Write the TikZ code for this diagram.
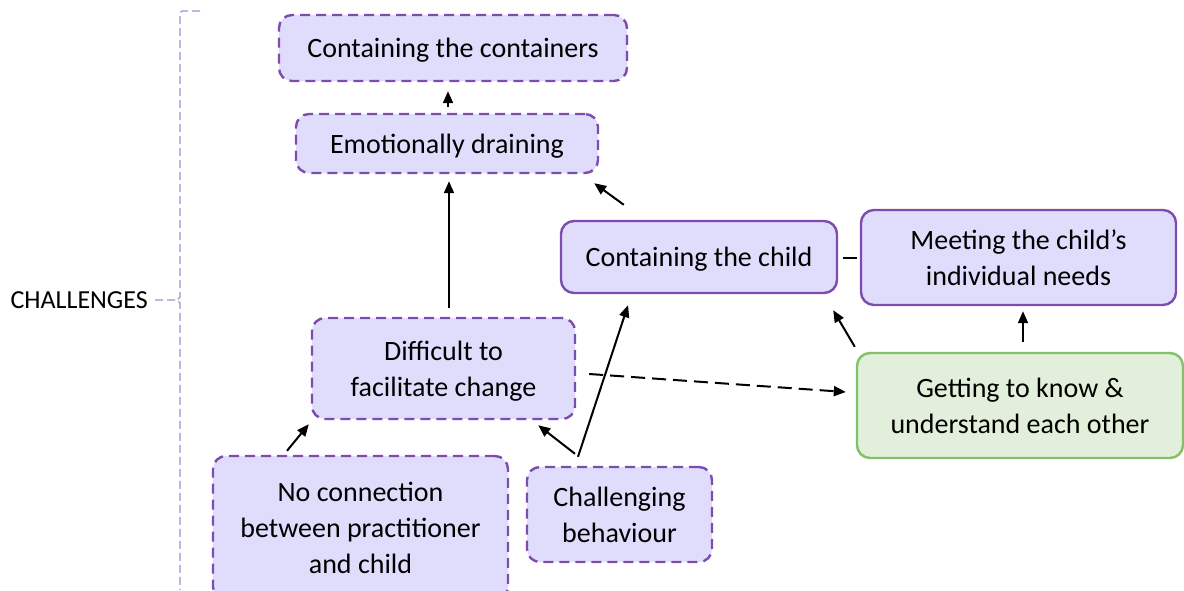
\documentclass[tikz,border=0pt]{standalone}
\usepackage{fontspec}
\setmainfont{Carlito}
\usetikzlibrary{arrows.meta}
\definecolor{boxfill}{HTML}{DFDDFB}
\definecolor{boxline}{HTML}{7E4CAE}
\definecolor{grfill}{HTML}{E2EFDA}
\definecolor{grline}{HTML}{82C06A}
\definecolor{brkline}{HTML}{A98BD4}
\tikzset{
  box/.style={draw=boxline, fill=boxfill, line width=2.4pt, rounded corners=13pt, align=center,
    font=\fontsize{28}{36}\selectfont, inner sep=0pt, text depth=0pt},
  dbox/.style={box, dash pattern=on 10pt off 6pt},
  gbox/.style={box, draw=grline, fill=grfill},
  arr/.style={line width=2pt, -{Triangle[length=12pt,width=10pt]}},
  darr/.style={arr, dash pattern=on 14pt off 7pt},
  brk/.style={draw=brkline, line width=1.4pt, dash pattern=on 8pt off 4pt},
}
\begin{document}
\begin{tikzpicture}[x=1pt,y=-1pt]
\useasboundingbox (0,0) rectangle (1184,590);
\clip (0,0) rectangle (1184,590);
\node[dbox, minimum width=348pt, minimum height=66pt] (cont) at (453,48) {Containing the containers};
\node[dbox, minimum width=302pt, minimum height=59pt] (emo) at (447,143.5) {Emotionally draining};
\node[box, minimum width=276pt, minimum height=72pt] (child) at (699,257) {Containing the child};
\node[box, minimum width=315pt, minimum height=95pt] (meet) at (1018.5,257.5) {Meeting the child’s\\individual needs};
\node[dbox, minimum width=263pt, minimum height=101pt] (dif) at (443.5,368.5) {Difficult to\\facilitate change};
\node[gbox, minimum width=326pt, minimum height=105pt] (get) at (1020,405.5) {Getting to know \&\\understand each other};
\node[dbox, minimum width=295pt, minimum height=144pt] (nocon) at (360.5,528) {No connection\\between practitioner\\and child};
\node[dbox, minimum width=185pt, minimum height=95pt] (chal) at (619.5,514.5) {Challenging\\behaviour};
\node[anchor=east, inner sep=0pt, font=\fontsize{26}{30}\selectfont] (lbl) at (148,300) {CHALLENGES};

\draw[brk] (200,11) -- (182,11) -- (180,13) -- (180,297) -- (177,300);
\draw[brk] ([xshift=7pt]lbl.east) -- (177,300) -- (180,303) -- (180,590);

\draw[arr] ([shift={(1,-6)}]emo.north) -- ([shift={(-5,9)}]cont.south);
\draw[arr] ([shift={(5.5,-9)}]dif.north) -- ([shift={(2,7)}]emo.south);
\draw[arr] ([shift={(64,-15)}]child.north west) -- ([shift={(-5,9)}]emo.south east);
\draw[line width=1.2pt] ([shift={(5,1)}]child.east) -- ([shift={(-3,0.5)}]meet.west);
\draw[arr] ([shift={(3,-10)}]get.north) -- ([shift={(4.5,5)}]meet.south);
\draw[arr] ([shift={(-1,-5)}]get.north west) -- ([shift={(-5,16)}]child.south east);
\draw[darr] ([shift={(13,5.5)}]dif.east) -- ([shift={(-10,-13.5)}]get.west);
\draw[arr] ([shift={(-41.5,-9)}]chal.north) -- ([shift={(-71,11)}]child.south);
\draw[arr] ([shift={(-44.5,-12)}]chal.north) -- ([shift={(-38,5)}]dif.south east);
\draw[arr] ([shift={(-73.5,-4)}]nocon.north) -- ([shift={(-2,4)}]dif.south west);
\end{tikzpicture}
\end{document}
